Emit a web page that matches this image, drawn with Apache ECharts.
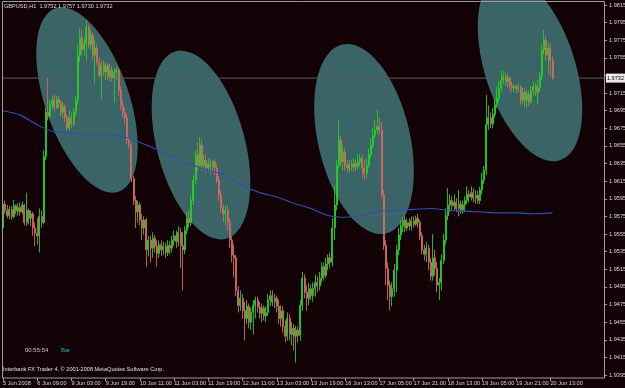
<!DOCTYPE html>
<html><head><meta charset="utf-8">
<script src="https://cdn.jsdelivr.net/npm/echarts@6/dist/echarts.min.js"></script>
<style>html,body{margin:0;padding:0;background:#120205;}#c{width:625px;height:388px;}</style>
</head><body><div id="c"></div>
<script>
const chartTitle = 'GBPUSD,H1  1.9752 1.9757 1.9730 1.9732';
const timerText = '00:55:54';
const barText = 'Bar';
const copyrightText = 'Interbank FX Trader 4, \u00a9 2001-2008 MetaQuotes Software Corp.';
const tickLabels = ['5 Jun 2008','6 Jun 09:00','9 Jun 03:00','9 Jun 19:00','10 Jun 11:00','11 Jun 03:00','11 Jun 19:00','12 Jun 11:00','13 Jun 03:00','13 Jun 19:00','16 Jun 13:00','17 Jun 05:00','17 Jun 21:00','18 Jun 13:00','19 Jun 05:00','19 Jun 21:00','20 Jun 13:00'];
const barsPerLabel = 16;
const totalSlots = 282;
const priceMin = 1.9395, priceMax = 1.9815, priceStep = 0.002;
const currentPrice = 1.9732;
// [open, close, low, high]
const ohlc = [
[1.9562,1.9589,1.9557,1.9596],[1.9589,1.9582,1.9578,1.9593],[1.9582,1.9576,1.9573,1.9588],[1.9576,1.9583,1.9572,1.9587],[1.9583,1.9575,1.9571,1.9587],
[1.9575,1.9587,1.9573,1.9594],[1.9587,1.9581,1.9578,1.9589],[1.9581,1.9585,1.9576,1.9590],[1.9585,1.9580,1.9576,1.9591],[1.9580,1.9588,1.9578,1.9592],
[1.9588,1.9568,1.9565,1.9589],[1.9568,1.9582,1.9564,1.9602],[1.9582,1.9573,1.9566,1.9584],[1.9573,1.9578,1.9564,1.9582],[1.9578,1.9562,1.9553,1.9580],
[1.9562,1.9556,1.9541,1.9568],[1.9556,1.9553,1.9543,1.9573],[1.9553,1.9575,1.9534,1.9584],[1.9575,1.9568,1.9562,1.9582],[1.9568,1.9643,1.9566,1.9650],
[1.9643,1.9693,1.9639,1.9698],[1.9693,1.9689,1.9684,1.9732],[1.9689,1.9702,1.9687,1.9707],[1.9702,1.9707,1.9696,1.9712],[1.9707,1.9698,1.9693,1.9713],
[1.9698,1.9708,1.9697,1.9712],[1.9708,1.9704,1.9698,1.9712],[1.9704,1.9693,1.9689,1.9707],[1.9693,1.9700,1.9687,1.9705],[1.9700,1.9687,1.9682,1.9702],
[1.9687,1.9675,1.9673,1.9691],[1.9675,1.9687,1.9672,1.9696],[1.9687,1.9680,1.9675,1.9693],[1.9680,1.9693,1.9677,1.9698],[1.9693,1.9707,1.9689,1.9712],
[1.9707,1.9758,1.9702,1.9770],[1.9758,1.9778,1.9750,1.9789],[1.9778,1.9764,1.9759,1.9787],[1.9764,1.9771,1.9757,1.9778],[1.9771,1.9790,1.9752,1.9798],
[1.9790,1.9770,1.9766,1.9793],[1.9770,1.9781,1.9764,1.9787],[1.9781,1.9758,1.9752,1.9784],[1.9758,1.9766,1.9726,1.9775],[1.9766,1.9750,1.9746,1.9771],
[1.9750,1.9735,1.9732,1.9755],[1.9735,1.9747,1.9707,1.9752],[1.9747,1.9739,1.9734,1.9752],[1.9739,1.9746,1.9730,1.9750],[1.9746,1.9734,1.9730,1.9749],
[1.9734,1.9741,1.9728,1.9748],[1.9741,1.9732,1.9728,1.9746],[1.9732,1.9738,1.9704,1.9743],[1.9738,1.9741,1.9730,1.9746],[1.9741,1.9718,1.9712,1.9743],
[1.9718,1.9701,1.9696,1.9723],[1.9701,1.9693,1.9687,1.9707],[1.9693,1.9687,1.9681,1.9698],[1.9687,1.9662,1.9657,1.9691],[1.9662,1.9656,1.9652,1.9665],
[1.9656,1.9618,1.9614,1.9659],[1.9618,1.9593,1.9588,1.9621],[1.9593,1.9580,1.9562,1.9598],[1.9580,1.9588,1.9568,1.9593],[1.9588,1.9571,1.9565,1.9591],
[1.9571,1.9562,1.9548,1.9578],[1.9562,1.9571,1.9554,1.9575],[1.9571,1.9537,1.9518,1.9573],[1.9537,1.9548,1.9530,1.9553],[1.9548,1.9539,1.9523,1.9553],
[1.9539,1.9550,1.9528,1.9557],[1.9550,1.9541,1.9534,1.9554],[1.9541,1.9533,1.9518,1.9548],[1.9533,1.9543,1.9528,1.9548],[1.9543,1.9537,1.9530,1.9548],
[1.9537,1.9541,1.9531,1.9546],[1.9541,1.9534,1.9528,1.9545],[1.9534,1.9542,1.9530,1.9548],[1.9542,1.9539,1.9532,1.9547],[1.9539,1.9548,1.9534,1.9553],
[1.9548,1.9553,1.9542,1.9559],[1.9553,1.9546,1.9539,1.9559],[1.9546,1.9557,1.9541,1.9564],[1.9557,1.9542,1.9516,1.9562],[1.9542,1.9537,1.9491,1.9557],
[1.9537,1.9559,1.9532,1.9564],[1.9559,1.9573,1.9555,1.9580],[1.9573,1.9568,1.9562,1.9582],[1.9568,1.9593,1.9564,1.9599],[1.9593,1.9616,1.9588,1.9622],
[1.9616,1.9645,1.9612,1.9650],[1.9645,1.9633,1.9627,1.9659],[1.9633,1.9656,1.9630,1.9665],[1.9656,1.9633,1.9627,1.9662],[1.9633,1.9639,1.9627,1.9645],
[1.9639,1.9630,1.9625,1.9646],[1.9630,1.9635,1.9625,1.9641],[1.9635,1.9631,1.9623,1.9641],[1.9631,1.9637,1.9625,1.9639],[1.9637,1.9630,1.9622,1.9641],
[1.9630,1.9616,1.9613,1.9634],[1.9616,1.9599,1.9593,1.9621],[1.9599,1.9585,1.9580,1.9605],[1.9585,1.9578,1.9568,1.9589],[1.9578,1.9582,1.9565,1.9588],
[1.9582,1.9568,1.9559,1.9587],[1.9568,1.9548,1.9539,1.9573],[1.9548,1.9531,1.9523,1.9553],[1.9531,1.9528,1.9506,1.9543],[1.9528,1.9491,1.9485,1.9531],
[1.9491,1.9474,1.9466,1.9496],[1.9474,1.9482,1.9468,1.9491],[1.9482,1.9468,1.9459,1.9487],[1.9468,1.9459,1.9434,1.9478],[1.9459,1.9473,1.9453,1.9480],
[1.9473,1.9455,1.9448,1.9476],[1.9455,1.9466,1.9446,1.9471],[1.9466,1.9474,1.9441,1.9480],[1.9474,1.9480,1.9459,1.9484],[1.9480,1.9472,1.9466,1.9484],
[1.9472,1.9465,1.9459,1.9478],[1.9465,1.9471,1.9455,1.9476],[1.9471,1.9462,1.9457,1.9474],[1.9462,1.9466,1.9455,1.9473],[1.9466,1.9480,1.9462,1.9487],
[1.9480,1.9485,1.9473,1.9491],[1.9485,1.9478,1.9473,1.9491],[1.9478,1.9482,1.9471,1.9487],[1.9482,1.9473,1.9466,1.9485],[1.9473,1.9459,1.9453,1.9480],
[1.9459,1.9468,1.9450,1.9474],[1.9468,1.9450,1.9443,1.9473],[1.9450,1.9439,1.9432,1.9457],[1.9439,1.9459,1.9434,1.9466],[1.9459,1.9441,1.9434,1.9464],
[1.9441,1.9448,1.9429,1.9455],[1.9448,1.9439,1.9423,1.9453],[1.9439,1.9446,1.9409,1.9451],[1.9446,1.9440,1.9432,1.9450],[1.9440,1.9474,1.9434,1.9480],
[1.9474,1.9505,1.9468,1.9512],[1.9505,1.9489,1.9482,1.9509],[1.9489,1.9482,1.9468,1.9497],[1.9482,1.9493,1.9474,1.9500],[1.9493,1.9485,1.9480,1.9498],
[1.9485,1.9493,1.9478,1.9500],[1.9493,1.9500,1.9484,1.9509],[1.9500,1.9496,1.9489,1.9507],[1.9496,1.9505,1.9491,1.9512],[1.9505,1.9518,1.9500,1.9523],
[1.9518,1.9508,1.9502,1.9523],[1.9508,1.9521,1.9505,1.9528],[1.9521,1.9528,1.9514,1.9532],[1.9528,1.9523,1.9516,1.9534],[1.9523,1.9562,1.9518,1.9573],
[1.9562,1.9588,1.9548,1.9610],[1.9588,1.9633,1.9582,1.9639],[1.9633,1.9662,1.9630,1.9684],[1.9662,1.9637,1.9632,1.9667],[1.9637,1.9648,1.9627,1.9656],
[1.9648,1.9633,1.9627,1.9652],[1.9633,1.9630,1.9625,1.9639],[1.9630,1.9634,1.9625,1.9639],[1.9634,1.9631,1.9627,1.9639],[1.9631,1.9635,1.9626,1.9641],
[1.9635,1.9632,1.9627,1.9639],[1.9632,1.9637,1.9629,1.9645],[1.9637,1.9641,1.9632,1.9646],[1.9641,1.9630,1.9618,1.9645],[1.9630,1.9624,1.9616,1.9639],
[1.9624,1.9633,1.9618,1.9641],[1.9633,1.9645,1.9630,1.9652],[1.9645,1.9656,1.9641,1.9664],[1.9656,1.9667,1.9652,1.9675],[1.9667,1.9673,1.9664,1.9684],
[1.9673,1.9677,1.9668,1.9696],[1.9677,1.9673,1.9668,1.9687],[1.9673,1.9599,1.9596,1.9682],[1.9599,1.9542,1.9537,1.9605],[1.9542,1.9516,1.9497,1.9548],
[1.9516,1.9497,1.9480,1.9523],[1.9497,1.9484,1.9468,1.9502],[1.9484,1.9493,1.9473,1.9500],[1.9493,1.9514,1.9484,1.9521],[1.9514,1.9537,1.9489,1.9543],
[1.9537,1.9554,1.9531,1.9562],[1.9554,1.9564,1.9548,1.9571],[1.9564,1.9571,1.9557,1.9575],[1.9571,1.9562,1.9557,1.9575],[1.9562,1.9568,1.9558,1.9573],
[1.9568,1.9564,1.9559,1.9573],[1.9564,1.9570,1.9559,1.9575],[1.9570,1.9566,1.9562,1.9575],[1.9566,1.9573,1.9564,1.9576],[1.9573,1.9568,1.9562,1.9578],
[1.9568,1.9553,1.9548,1.9571],[1.9553,1.9537,1.9532,1.9557],[1.9537,1.9532,1.9525,1.9543],[1.9532,1.9539,1.9523,1.9546],[1.9539,1.9523,1.9514,1.9543],
[1.9523,1.9507,1.9502,1.9528],[1.9507,1.9528,1.9502,1.9555],[1.9528,1.9516,1.9508,1.9537],[1.9516,1.9497,1.9489,1.9523],[1.9497,1.9500,1.9480,1.9505],
[1.9500,1.9525,1.9491,1.9532],[1.9525,1.9548,1.9521,1.9555],[1.9548,1.9576,1.9543,1.9584],[1.9576,1.9588,1.9571,1.9607],[1.9588,1.9593,1.9580,1.9600],
[1.9593,1.9587,1.9582,1.9598],[1.9587,1.9591,1.9582,1.9600],[1.9591,1.9584,1.9580,1.9596],[1.9584,1.9589,1.9575,1.9605],[1.9589,1.9582,1.9578,1.9593],
[1.9582,1.9588,1.9578,1.9593],[1.9588,1.9593,1.9580,1.9598],[1.9593,1.9600,1.9589,1.9609],[1.9600,1.9597,1.9591,1.9605],[1.9597,1.9602,1.9593,1.9609],
[1.9602,1.9596,1.9591,1.9607],[1.9596,1.9599,1.9590,1.9605],[1.9599,1.9593,1.9589,1.9604],[1.9593,1.9605,1.9589,1.9609],[1.9605,1.9616,1.9600,1.9625],
[1.9616,1.9627,1.9612,1.9632],[1.9627,1.9679,1.9622,1.9713],[1.9679,1.9687,1.9673,1.9701],[1.9687,1.9680,1.9675,1.9693],[1.9680,1.9691,1.9675,1.9698],
[1.9691,1.9702,1.9687,1.9709],[1.9702,1.9709,1.9698,1.9722],[1.9709,1.9721,1.9705,1.9728],[1.9721,1.9730,1.9716,1.9741],[1.9730,1.9734,1.9725,1.9740],
[1.9734,1.9728,1.9723,1.9739],[1.9728,1.9732,1.9721,1.9737],[1.9732,1.9723,1.9718,1.9734],[1.9723,1.9721,1.9716,1.9728],[1.9721,1.9723,1.9716,1.9725],
[1.9723,1.9720,1.9715,1.9725],[1.9720,1.9722,1.9716,1.9725],[1.9722,1.9707,1.9702,1.9724],[1.9707,1.9716,1.9702,1.9721],[1.9716,1.9707,1.9700,1.9721],
[1.9707,1.9714,1.9698,1.9718],[1.9714,1.9705,1.9700,1.9718],[1.9705,1.9718,1.9702,1.9723],[1.9718,1.9723,1.9712,1.9728],[1.9723,1.9716,1.9712,1.9726],
[1.9716,1.9721,1.9702,1.9730],[1.9721,1.9734,1.9716,1.9739],[1.9734,1.9764,1.9730,1.9770],[1.9764,1.9775,1.9759,1.9787],[1.9775,1.9758,1.9752,1.9780],
[1.9758,1.9766,1.9737,1.9773],[1.9766,1.9752,1.9734,1.9771],[1.9752,1.9732,1.9730,1.9757]
];
const maBars = [0,8,16,24,32,40,48,56,64,72,80,88,96,104,112,120,128,136,144,152,160,168,176,184,192,200,208,216,224,232,240,248,257];
const maValues = [1.9695,1.9690,1.9679,1.9671,1.9670,1.9668,1.9668,1.9666,1.9659,1.9651,1.9642,1.9634,1.9627,1.9622,1.9610,1.9602,1.9597,1.9590,1.9584,1.9576,1.9574,1.9576,1.9581,1.9582,1.9583,1.9584,1.9582,1.9581,1.9580,1.9579,1.9579,1.9578,1.9579];

const FONT = 'Liberation Sans';
const cats = [];
for (let i = 0; i < totalSlots; i++) cats.push(String(i));
const isLabelSlot = (i) => i % barsPerLabel === 0 && (i / barsPerLabel) < tickLabels.length;
const maData = maBars.map((b, k) => [b, maValues[k]]);
const priceLineData = [[0, currentPrice], [totalSlots - 1, currentPrice]];

// annotation ellipses (pixel geometry): cx, cy, semi-major, semi-minor, tilt (deg)
const ellipseShapes = [
  [87, 100, 97, 42, 19],
  [201, 145, 97, 44, 15],
  [364, 139, 97, 46, 13],
  [530, 68, 97, 45, 18]
];

const chart = echarts.init(document.getElementById('c'), null, {renderer: 'canvas'});
const graphics = ellipseShapes.map(e => ({
  type: 'circle', silent: true, z: 1,
  x: e[0], y: e[1], rotation: e[4] * Math.PI / 180, scaleY: e[2] / e[3],
  shape: {cx: 0, cy: 0, r: e[3]},
  style: {fill: '#3a6466'}
}));
graphics.push(
  {type: 'rect', silent: true, z: 50, shape: {x: 2.5, y: 1.5, width: 602, height: 376.5}, style: {fill: 'none', stroke: '#9c9c9c', lineWidth: 1}},
  {type: 'text', z: 50, x: 4, y: 3, style: {text: chartTitle, fill: '#d8d8d8', font: '5.6px ' + FONT}},
  {type: 'text', z: 50, x: 25, y: 347, style: {text: timerText, fill: '#c8c8c8', font: '6px ' + FONT}},
  {type: 'text', z: 50, x: 61, y: 347, style: {text: barText, fill: '#1fb0c0', font: '6px ' + FONT}},
  {type: 'text', z: 50, x: 3, y: 366, style: {text: copyrightText, fill: '#e0e0e0', font: '5.6px ' + FONT}}
);

chart.setOption({
  animation: false,
  backgroundColor: '#120205',
  grid: {left: 2, right: 20, top: 5, bottom: 13, containLabel: false, outerBoundsMode: 'none'},
  xAxis: {
    type: 'category', data: cats, boundaryGap: true, offset: 3,
    axisLine: {show: false},
    axisTick: {show: true, alignWithLabel: true, length: 3, interval: (i) => isLabelSlot(i), lineStyle: {color: '#9c9c9c'}},
    axisLabel: {show: true, interval: (i) => isLabelSlot(i), formatter: (v, i) => tickLabels[Number(v) / barsPerLabel] || '',
      align: 'left', margin: 2, color: '#d8d8d8', fontSize: 5.6, fontFamily: FONT},
    splitLine: {show: false}
  },
  yAxis: {
    type: 'value', position: 'right', min: priceMin, max: priceMax, interval: priceStep, scale: true,
    axisLine: {show: false},
    axisTick: {show: true, length: 2, lineStyle: {color: '#9c9c9c'}},
    axisLabel: {margin: 4, color: '#d8d8d8', fontSize: 5.6, fontFamily: FONT,
      formatter: (v) => Math.abs(v - currentPrice) < 0.0008 ? '' : v.toFixed(4)},
    splitLine: {show: false}
  },
  series: [
    {
      type: 'line', data: priceLineData, showSymbol: false, symbol: 'none', z: 2, silent: true,
      lineStyle: {color: '#5a5f5e', width: 1},
      endLabel: {show: true, formatter: currentPrice.toFixed(4), distance: 2,
        backgroundColor: '#ececec', color: '#000', fontSize: 5.6, fontFamily: FONT, padding: [2, 1, 1, 1]}
    },
    {
      type: 'candlestick', data: ohlc, barWidth: 1.5, z: 3,
      itemStyle: {color: '#26e026', borderColor: '#1fd01f', color0: '#f29494', borderColor0: '#d06464', borderWidth: 0.9}
    },
    {
      type: 'line', data: maData, showSymbol: false, symbol: 'none', smooth: 0.3, z: 4,
      lineStyle: {color: '#2e50b4', width: 1.1}
    }
  ],
  graphic: graphics
});
</script></body></html>
